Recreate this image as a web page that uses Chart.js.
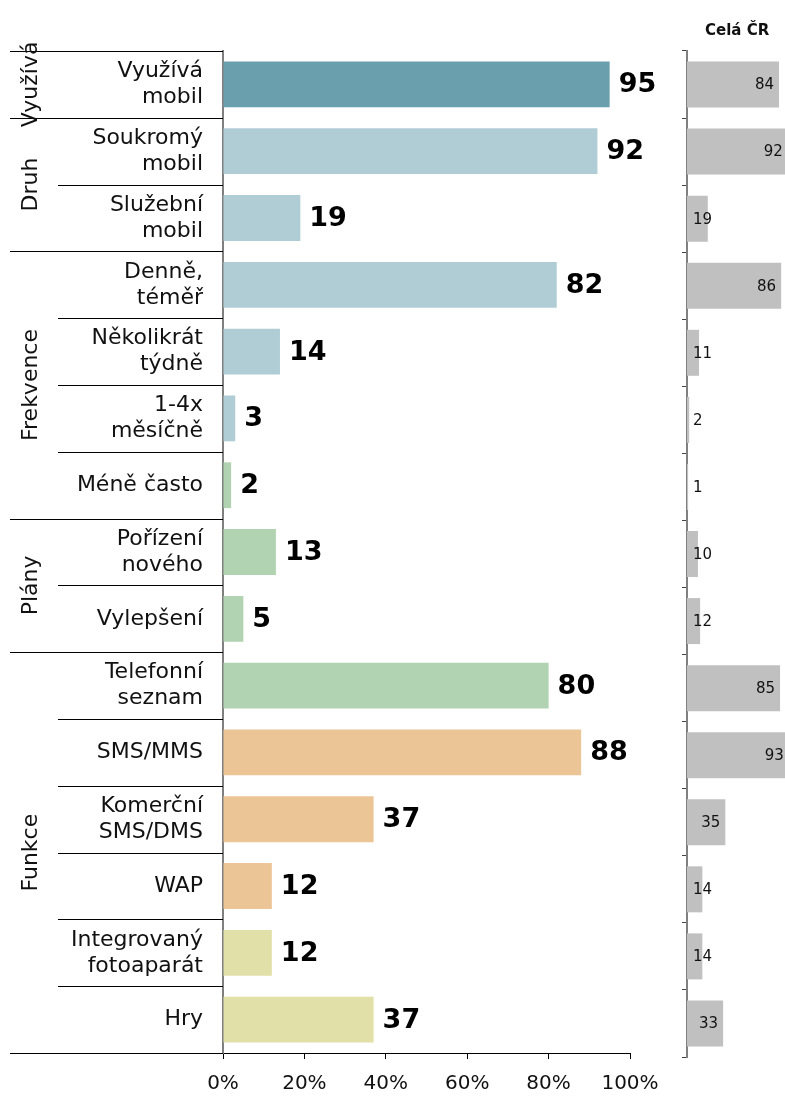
<!DOCTYPE html>
<html>
<head>
<meta charset="utf-8">
<script src="https://cdn.jsdelivr.net/npm/chart.js@4/dist/chart.umd.min.js"></script>
<style>
    body { margin: 0; background: #fff; width: 785px; height: 1099px; overflow: hidden; position: relative; font-family: 'DejaVu Sans', sans-serif; }
    #mainChart { position: absolute; left: 0; top: 0; }
    #czChart { position: absolute; left: 660px; top: 0; }
    .cz-title { position: absolute; left: 705px; top: 21px; font-weight: bold; font-size: 15px; color: #111; }
</style>
</head>
<body>
<canvas id="mainChart" width="690" height="1099"></canvas>
<canvas id="czChart" width="125" height="1099"></canvas>
<div class="cz-title">Celá ČR</div>
<script>
// data
const categories = [
    ['Využívá', 'mobil'], ['Soukromý', 'mobil'], ['Služební', 'mobil'],
    ['Denně,', 'téměř'], ['Několikrát', 'týdně'], ['1-4x', 'měsíčně'], 'Méně často',
    ['Pořízení', 'nového'], 'Vylepšení',
    ['Telefonní', 'seznam'], 'SMS/MMS', ['Komerční', 'SMS/DMS'], 'WAP',
    ['Integrovaný', 'fotoaparát'], 'Hry'
];
const values = [95, 92, 19, 82, 14, 3, 2, 13, 5, 80, 88, 37, 12, 12, 37];
const valuesCR = [84, 92, 19, 86, 11, 2, 1, 10, 12, 85, 93, 35, 14, 14, 33];
const groupNames = ['Využívá', 'Druh', 'Frekvence', 'Plány', 'Funkce'];
const groupStarts = [0, 1, 3, 7, 9];
const xTicks = [0, 20, 40, 60, 80, 100];

const barColors = [
    '#6a9fad',
    '#b0cdd5', '#b0cdd5', '#b0cdd5', '#b0cdd5', '#b0cdd5',
    '#b1d3b1', '#b1d3b1', '#b1d3b1', '#b1d3b1',
    '#ecc597', '#ecc597', '#ecc597',
    '#e1e0a8', '#e1e0a8'
];

const FONT = "'DejaVu Sans', sans-serif";
Chart.defaults.font.family = FONT;
Chart.defaults.color = '#111';

// left part: separators, group names, value labels
const mainDecor = {
    id: 'mainDecor',
    afterDraw(chart) {
        const ctx = chart.ctx;
        const area = chart.chartArea;
        const n = categories.length;
        const pitch = (area.bottom - area.top) / n;

        ctx.save();
        ctx.strokeStyle = '#000';
        ctx.lineWidth = 1;
        for (let i = 0; i <= n; i++) {
            const y = Math.round(area.top + i * pitch) + 0.5;
            const isGroup = i === n || groupStarts.includes(i);
            ctx.beginPath();
            ctx.moveTo(isGroup ? 10 : 58, y);
            ctx.lineTo(area.left, y);
            ctx.stroke();
        }

        // group names, rotated
        ctx.fillStyle = '#111';
        ctx.font = '22px ' + FONT;
        ctx.textAlign = 'center';
        ctx.textBaseline = 'middle';
        groupNames.forEach((name, g) => {
            const s = groupStarts[g];
            const e = g + 1 < groupStarts.length ? groupStarts[g + 1] : n;
            const cy = area.top + (s + e) / 2 * pitch;
            ctx.save();
            ctx.translate(31, cy);
            ctx.rotate(-Math.PI / 2);
            ctx.fillText(name, 0, 0);
            ctx.restore();
        });

        // value labels
        const meta = chart.getDatasetMeta(0);
        ctx.fillStyle = '#000';
        ctx.font = 'bold 27px ' + FONT;
        ctx.textAlign = 'left';
        meta.data.forEach((bar, i) => {
            ctx.fillText(values[i], bar.x + 9, bar.y + 1);
        });
        ctx.restore();
    }
};

new Chart(document.getElementById('mainChart'), {
    type: 'bar',
    data: {
        labels: categories,
        datasets: [{
            data: values,
            backgroundColor: barColors,
            barPercentage: 0.686,
            categoryPercentage: 1
        }]
    },
    options: {
        indexAxis: 'y',
        responsive: false,
        animation: false,
        devicePixelRatio: 1,
        layout: { padding: { top: 51, right: 60, left: 0, bottom: 0 } },
        plugins: { legend: { display: false }, tooltip: { enabled: false } },
        scales: {
            x: {
                min: 0,
                max: 100,
                afterBuildTicks: s => { s.ticks = xTicks.map(v => ({ value: v })); },
                afterFit: s => { s.height = 42; },
                ticks: {
                    callback: v => v + '%',
                    font: { size: 20 },
                    color: '#111',
                    padding: 13,
                    maxRotation: 0
                },
                grid: { drawOnChartArea: false, drawTicks: true, tickLength: 6, color: '#000' },
                border: { color: '#000', width: 1 }
            },
            y: {
                afterFit: s => { s.width = 223; },
                ticks: {
                    font: { size: 22, lineHeight: 1.18 },
                    color: '#111',
                    padding: 20
                },
                grid: { display: false, drawTicks: false },
                border: { color: '#808080', width: 2 }
            }
        }
    },
    plugins: [mainDecor]
});

// right part: Celá ČR
const crLabels = {
    id: 'crLabels',
    afterDatasetsDraw(chart) {
        const ctx = chart.ctx;
        const meta = chart.getDatasetMeta(0);
        ctx.save();
        ctx.fillStyle = '#111';
        ctx.font = '15px ' + FONT;
        ctx.textAlign = 'left';
        ctx.textBaseline = 'middle';
        meta.data.forEach((bar, i) => {
            const txt = String(valuesCR[i]);
            const w = ctx.measureText(txt).width;
            const x = Math.max(bar.x - 5 - w, bar.base + 6);
            ctx.fillText(txt, x, bar.y + 1);
        });
        ctx.restore();
    }
};

new Chart(document.getElementById('czChart'), {
    type: 'bar',
    data: {
        labels: categories,
        datasets: [{
            data: valuesCR,
            backgroundColor: '#c0c0c0',
            barPercentage: 0.686,
            categoryPercentage: 1
        }]
    },
    options: {
        indexAxis: 'y',
        responsive: false,
        animation: false,
        devicePixelRatio: 1,
        layout: { padding: { top: 51, right: 0, left: 0, bottom: 42 } },
        plugins: { legend: { display: false }, tooltip: { enabled: false } },
        scales: {
            x: { display: false, min: 0, max: 89.5 },
            y: {
                afterFit: s => { s.width = 27; },
                ticks: { display: false },
                grid: { drawOnChartArea: false, drawTicks: true, tickLength: 5, color: '#444', offset: true },
                border: { color: '#808080', width: 2 }
            }
        }
    },
    plugins: [crLabels]
});
</script>
</body>
</html>
